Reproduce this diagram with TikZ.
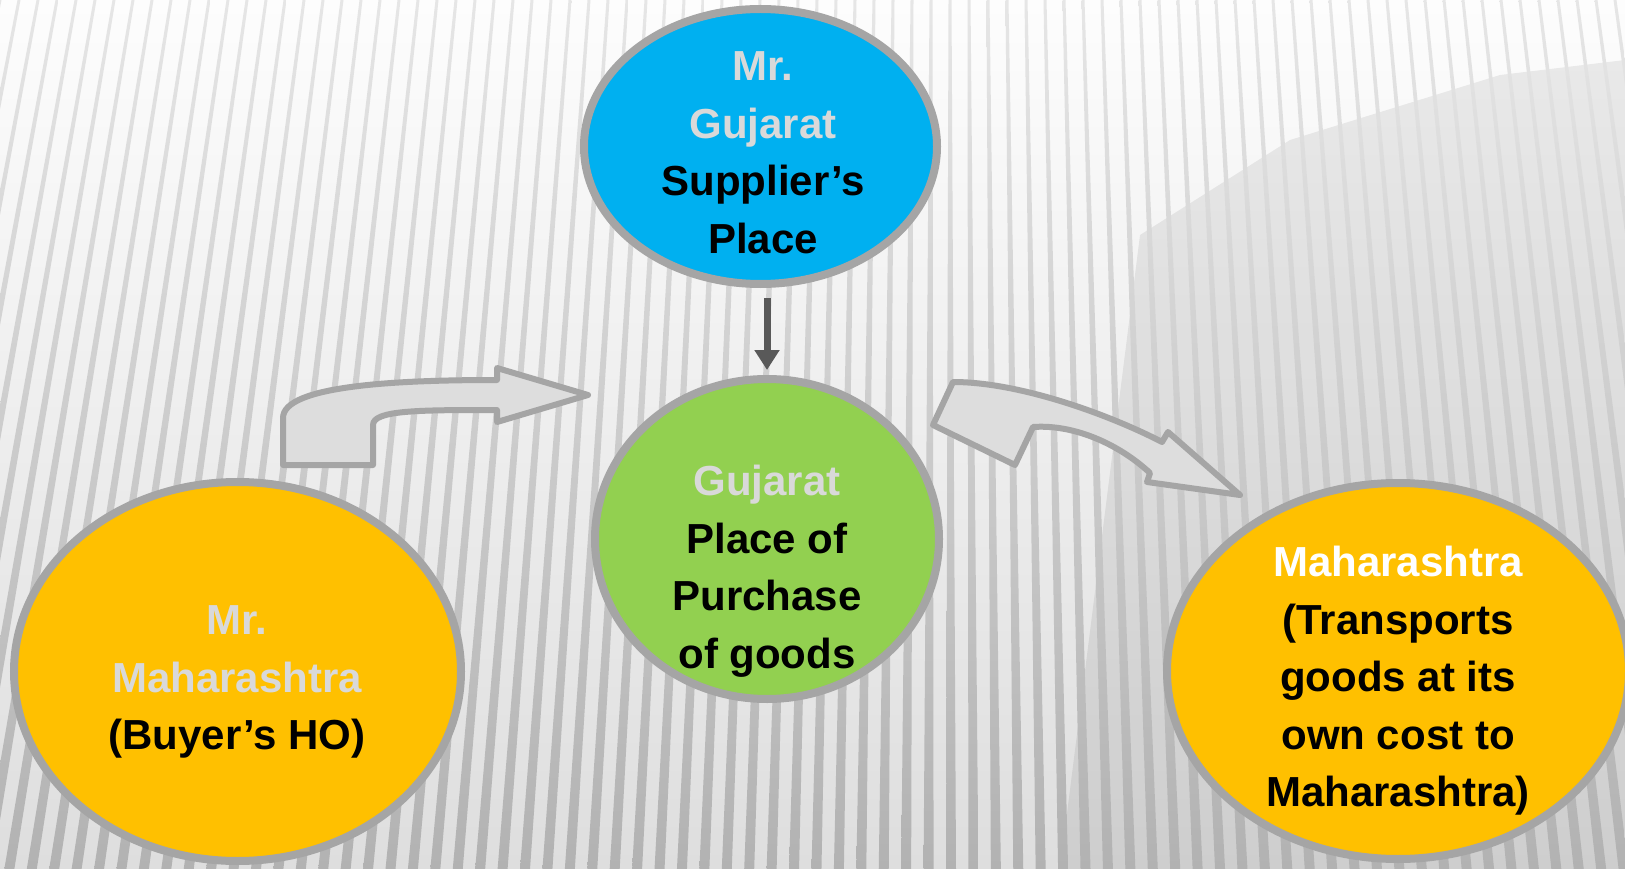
\documentclass[tikz,border=0pt]{standalone}
\usepackage{fontspec}
\setmainfont{Liberation Sans}
\usetikzlibrary{shapes.geometric,arrows.meta}
\definecolor{bluef}{HTML}{00B0F0}
\definecolor{greenf}{HTML}{92D050}
\definecolor{orangef}{HTML}{FFC000}
\definecolor{rimc}{HTML}{A5A5A5}
\definecolor{lgtext}{HTML}{D9D9D9}
\definecolor{arrfill}{HTML}{DDDDDD}
\definecolor{darr}{HTML}{595959}
\definecolor{bgtop}{HTML}{FDFDFD}
\definecolor{bgbot}{HTML}{DEDEDE}
\definecolor{stripetop}{HTML}{E6E6E6}
\definecolor{stripebot}{HTML}{B2B2B2}
\definecolor{shadec}{HTML}{000000}
\begin{document}
\begin{tikzpicture}[x=1pt,y=-1pt,
  bubble/.style={ellipse, draw=rimc, line width=8pt, inner sep=0pt},
  btext/.style={align=center, font=\fontsize{42}{57.5}\selectfont\bfseries, inner sep=0pt},
  bentarrow/.style={fill=arrfill, draw=rimc, line width=6pt, line join=round},
  downarrow/.style={draw=darr, line width=7pt, -{Triangle[width=24pt,length=20pt]}, shorten <=10pt, shorten >=5pt}
]
\useasboundingbox (0,0) rectangle (1625,869);
\begin{scope}
  \clip (0,0) rectangle (1625,869);
  \shade[top color=bgtop, bottom color=bgbot] (0,0) rectangle (1625,869);
  \fill[shadec, opacity=0.07] (1625,60) -- (1500,75) -- (1290,140) -- (1140,235) -- (1060,869) -- (1625,869) -- cycle;
  \foreach \i in {-5,...,90}{
    \pgfmathsetmacro{\xt}{19*\i}
    \pgfmathsetmacro{\xb}{1.18*\xt-170}
    \shade[top color=stripetop, bottom color=stripebot]
      (\xt-1.5,0) -- (\xt+1.5,0) -- (\xb+5,869) -- (\xb-5,869) -- cycle;
  }
\end{scope}

% bent arrows
\draw[bentarrow] (283,465) -- (283,418) .. controls (283,385) and (400,380) .. (497,380)
  -- (497,368) -- (588,395) -- (497,422) -- (497,410)
  .. controls (420,410) and (373,410) .. (373,425) -- (373,465) -- cycle;
\draw[bentarrow] (953,382) -- (933,425) -- (1015,465) -- (1033,427)
  .. controls (1075,424) and (1120,445) .. (1150,473) -- (1147,482) -- (1240,495)
  -- (1168,432) -- (1162,442) .. controls (1110,415) and (1020,382) .. (953,382) -- cycle;

% ellipses
\node[bubble, fill=bluef, minimum width=353pt, minimum height=275pt] (top) at (760.5,146.5) {};
\node[bubble, fill=greenf, minimum width=344pt, minimum height=320pt] (mid) at (767,539) {};
\node[bubble, fill=orangef, minimum width=447pt, minimum height=379pt] (left) at (237.5,671.5) {};
\node[bubble, fill=orangef, minimum width=462pt, minimum height=376pt] (right) at (1398,671) {};

\draw[downarrow] (top.south -| mid.north) -- (mid.north);

% texts
\node[btext] (toptext) at (763,153) {\textcolor{lgtext}{Mr.}\\\textcolor{lgtext}{Gujarat}\\Supplier’s\\Place};
\node[btext] (midtext) at (767,571) {\textcolor{lgtext}{Gujarat}\\Place of\\Purchase\\of goods};
\node[btext] (lefttext) at (237,682) {\textcolor{lgtext}{Mr.}\\\textcolor{lgtext}{Maharashtra}\\(Buyer’s HO)};
\node[btext] (righttext) at (1398,681) {\textcolor{white}{Maharashtra}\\(Transports\\goods at its\\own cost to\\Maharashtra)};
\end{tikzpicture}
\end{document}
